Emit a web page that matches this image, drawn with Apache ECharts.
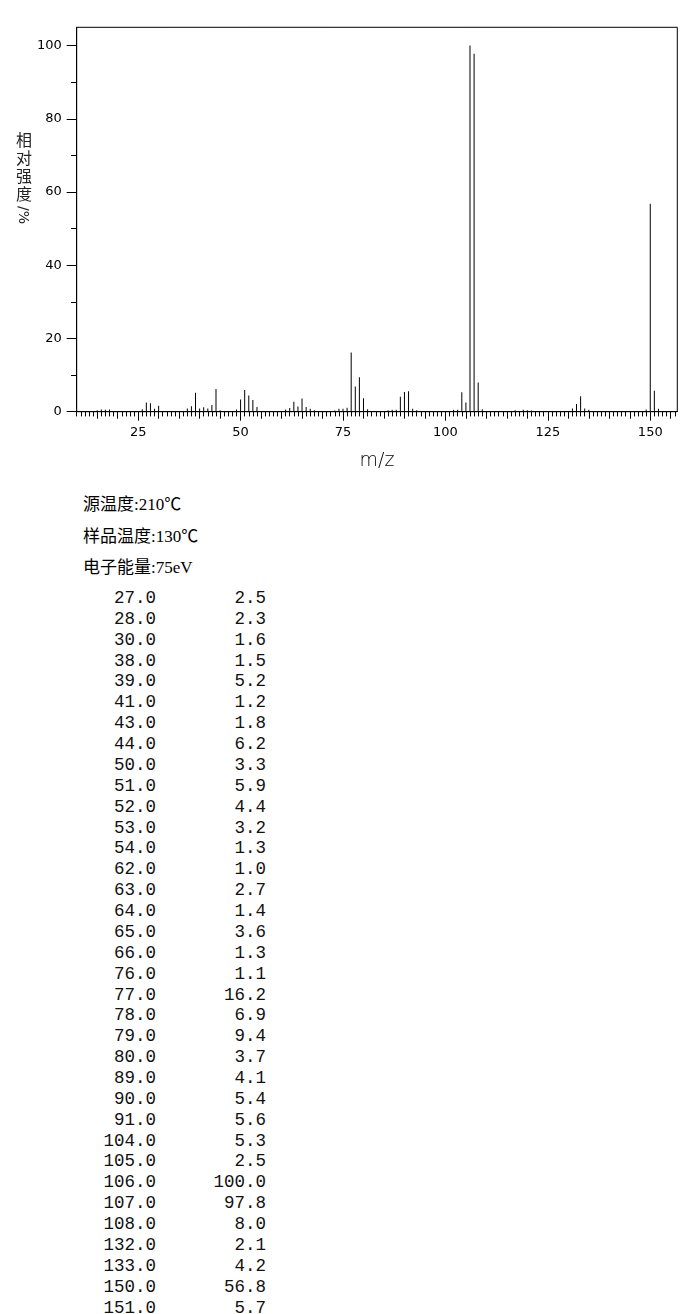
<!DOCTYPE html>
<html>
<head>
<meta charset="utf-8">
<script src="https://cdn.jsdelivr.net/npm/echarts@6/dist/echarts.min.js"></script>
<style>
    body { margin: 0; width: 687px; height: 1314px; overflow: hidden; background: #fff; }
    #chart { position: absolute; left: 0; top: 0; width: 687px; height: 480px; }
    .info { position: absolute; left: 83px; height: 22px; line-height: 22px; font-size: 17px; font-family: "Liberation Serif", "Noto Sans CJK SC"; color: #000; white-space: nowrap; }
    .row { position: absolute; left: 0; width: 300px; height: 20px; line-height: 20px; font-size: 17.5px; font-family: "Liberation Mono", monospace; color: #111; }
    .row span { position: absolute; top: 0; text-align: right; }
    .row .m { left: 0; width: 156px; }
    .row .v { left: 0; width: 266px; }
</style>
</head>
<body>
<div id="chart"></div>
<div id="info"></div>
<script>
// 质谱峰 m/z
var mz = [15, 16, 17, 18, 26, 27, 28, 29, 30, 37, 38, 39, 40, 41, 42, 43, 44, 45,
    49, 50, 51, 52, 53, 54, 61, 62, 63, 64, 65, 66, 67, 68, 73, 74, 75, 76, 77, 78, 79, 80, 81,
    86, 87, 88, 89, 90, 91, 92, 93, 102, 103, 104, 105, 106, 107, 108, 109,
    117, 119, 120, 121, 131, 132, 133, 134, 135, 149, 150, 151, 152];
// 相对强度 %
var intensity = [0.4, 0.6, 0.5, 0.6, 0.7, 2.5, 2.3, 0.8, 1.6, 0.9, 1.5, 5.2, 0.9, 1.2, 0.9, 1.8, 6.2, 0.4,
    0.6, 3.3, 5.9, 4.4, 3.2, 1.3, 0.6, 1.0, 2.7, 1.4, 3.6, 1.3, 0.8, 0.4, 0.3, 0.8, 0.8, 1.1, 16.2, 6.9, 9.4, 3.7, 0.7,
    0.4, 0.5, 0.5, 4.1, 5.4, 5.6, 0.8, 0.4, 0.5, 0.5, 5.3, 2.5, 100.0, 97.8, 8.0, 0.7,
    0.4, 0.5, 0.4, 0.3, 0.9, 2.1, 4.2, 0.9, 0.5, 0.6, 56.8, 5.7, 0.8];
// 坐标轴刻度
var xLabels = [25, 50, 75, 100, 125, 150];
var xMidTicks = [15, 20, 30, 35, 40, 45, 55, 60, 65, 70, 80, 85, 90, 95, 105, 110, 115, 120, 130, 135, 140, 145, 155];
var yLabels = [0, 20, 40, 60, 80, 100];
var yMinorTicks = [10, 30, 50, 70, 90];
// 实验条件
var conditions = ["源温度:210℃", "样品温度:130℃", "电子能量:75eV"];

var xMin = 10, xMax = 156.6, yMin = 0, yMax = 105;

(function() {
    var myChart = echarts.init(document.getElementById("chart"));

    var barData = [];
    for (var i = 0; i < mz.length; i++) {
        barData.push([mz[i], intensity[i]]);
    }
    // 每个整数位置一个小刻度
    var xMinorTicks = [];
    for (var t = Math.ceil(xMin); t <= Math.floor(xMax); t++) {
        xMinorTicks.push(t);
    }

    var labelFont = { color: "#000", fontSize: 13, fontFamily: "DejaVu Sans" };

    var option = {
        animation: false,
        grid: {
            left: 76.7,
            right: 9.7,
            top: 27.3,
            bottom: 68.3,
            show: true,
            borderColor: "#000",
            borderWidth: 1
        },
        xAxis: [
            {
                type: "value",
                min: xMin,
                max: xMax,
                position: "bottom",
                name: "m/z",
                nameLocation: "middle",
                nameGap: 40,
                nameTextStyle: { color: "#000", fontSize: 19, fontFamily: "DejaVu Sans", fontWeight: "lighter" },
                axisLine: { lineStyle: { color: "#000", width: 1 } },
                axisTick: { show: true, length: 9, customValues: xLabels, lineStyle: { color: "#000" } },
                axisLabel: Object.assign({ margin: 14, customValues: xLabels }, labelFont),
                splitLine: { show: false }
            },
            {
                type: "value",
                min: xMin,
                max: xMax,
                position: "bottom",
                axisLine: { show: false },
                axisTick: { show: true, length: 7, customValues: xMidTicks, lineStyle: { color: "#000" } },
                axisLabel: { show: false },
                splitLine: { show: false }
            },
            {
                type: "value",
                min: xMin,
                max: xMax,
                position: "bottom",
                axisLine: { show: false },
                axisTick: { show: true, length: 4.7, customValues: xMinorTicks, lineStyle: { color: "#000" } },
                axisLabel: { show: false },
                splitLine: { show: false }
            }
        ],
        yAxis: [
            {
                type: "value",
                min: yMin,
                max: yMax,
                position: "left",
                axisLine: { show: true, lineStyle: { color: "#000" } },
                axisTick: { show: true, length: 10, customValues: yLabels, lineStyle: { color: "#000" } },
                axisLabel: Object.assign({ margin: 15, customValues: yLabels }, labelFont),
                splitLine: { show: false }
            },
            {
                type: "value",
                min: yMin,
                max: yMax,
                position: "left",
                axisLine: { show: false },
                axisTick: { show: true, length: 5.7, customValues: yMinorTicks, lineStyle: { color: "#000" } },
                axisLabel: { show: false },
                splitLine: { show: false }
            }
        ],
        graphic: [
            {
                type: "text",
                left: 16,
                top: 131,
                style: {
                    text: "相\n对\n强\n度",
                    fill: "#222",
                    font: '16px "Noto Sans CJK SC"',
                    lineHeight: 18
                }
            },
            {
                type: "text",
                x: 23,
                y: 206,
                rotation: -Math.PI / 2,
                style: {
                    text: "/%",
                    fill: "#222",
                    font: '14px "DejaVu Sans"',
                    textAlign: "left",
                    textVerticalAlign: "middle"
                }
            }
        ],
        series: [
            {
                type: "bar",
                xAxisIndex: 0,
                yAxisIndex: 0,
                barWidth: 1,
                data: barData,
                itemStyle: { color: "#000" }
            }
        ]
    };

    myChart.setOption(option);
    window.addEventListener("resize", function() {
        myChart.resize();
    });
})();

// 下方文字与峰表
(function() {
    var box = document.getElementById("info");
    var html = "";
    var lineY = [505, 536.5, 568];
    for (var i = 0; i < conditions.length; i++) {
        html += '<div class="info" style="top:' + (lineY[i] - 11) + 'px">' + conditions[i] + '</div>';
    }
    var rowTop = 598, rowStep = 20.87, k = 0;
    for (var j = 0; j < mz.length; j++) {
        if (intensity[j] < 1) continue;
        var y = rowTop + k * rowStep - 10;
        html += '<div class="row" style="top:' + y + 'px"><span class="m">' + mz[j].toFixed(1) +
            '</span><span class="v">' + intensity[j].toFixed(1) + '</span></div>';
        k++;
    }
    box.innerHTML = html;
})();
</script>
</body>
</html>
